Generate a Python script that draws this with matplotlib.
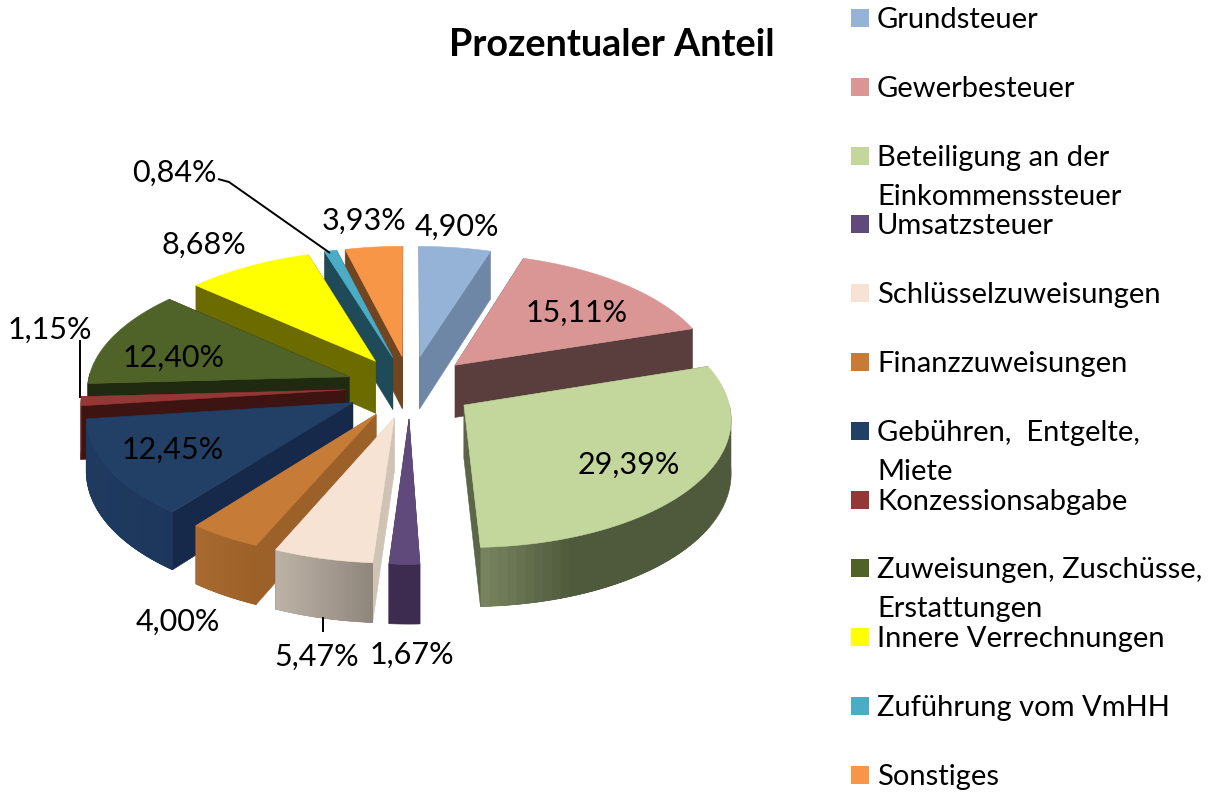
#!env python3

import numpy as np
import matplotlib
matplotlib.use("Agg")
import matplotlib.pyplot as plt
from matplotlib.colors import to_rgb
from matplotlib.patches import Polygon, Rectangle

names = ['Grundsteuer', 'Gewerbesteuer', 'Beteiligung an der\nEinkommenssteuer', 'Umsatzsteuer',
         'Schlüsselzuweisungen', 'Finanzzuweisungen', 'Gebühren,  Entgelte,\nMiete', 'Konzessionsabgabe',
         'Zuweisungen, Zuschüsse,\nErstattungen', 'Innere Verrechnungen', 'Zuführung vom VmHH', 'Sonstiges']
values = [4.90, 15.11, 29.39, 1.67, 5.47, 4.00, 12.45, 1.15, 12.40, 8.68, 0.84, 3.93]
title = 'Prozentualer Anteil'

top_colors = ['#95B3D7', '#D99694', '#C3D69B', '#604A7B', '#F6E3D3', '#C67B36',
              '#223F66', '#953735', '#4F6228', '#FFFF00', '#4BACC6', '#F79646']
side_colors = ['#6F87A6', '#5A3E3D', '#5C6548', '#3D2C4F', '#CFC3B5', '#9C6128',
               '#16294A', '#3E1412', '#1F2A10', '#6B6B00', '#1F4A58', '#70451F']
arc_left = ['#6F87A6', '#5A3E3D', '#77835F', '#3D2C4F', '#BDB2A6', '#A86A30',
            '#1F3A60', '#6A1F1D', '#1F2A10', '#6B6B00', '#1F4A58', '#70451F']
arc_right = ['#6F87A6', '#5A3E3D', '#4F593B', '#3D2C4F', '#8F867B', '#9C6128',
             '#1D375C', '#6A1F1D', '#1F2A10', '#6B6B00', '#1F4A58', '#70451F']

label_pos = [(457, 225), (577, 311), (629, 463), (412, 653), (317, 655), (178, 620),
             (173, 448), (50, 328), (174, 356), (204, 243), (174, 171), (364, 219)]
leaders = [[(218, 179), (229, 182), (330, 253)], [(80, 340), (80, 398)], [(323, 617), (323, 632)]]

CX, CY = 410, 387
RADIUS = 262
EXPLODE = 65
TILT = 0.48
PERSP = 0.00035
DEPTH = 53
FONT = 'Lato'


def project(x, y, z=0.0):
    s = 1.0 / (1.0 - PERSP * y)
    return CX + x * s, CY + TILT * y * s + DEPTH * z * s


def outline(t0, t1, ox, oy, n=60):
    th = np.linspace(t0, t1, n)
    return ox + RADIUS * np.sin(th), oy - RADIUS * np.cos(th), th


def draw_slice(ax, t0, t1, top, side, c_left, c_right):
    mid = (t0 + t1) / 2
    ox, oy = EXPLODE * np.sin(mid), -EXPLODE * np.cos(mid)
    ax_x, ax_y, th = outline(t0, t1, ox, oy)

    # radial walls first
    for t in (t0, t1):
        ex, ey = ox + RADIUS * np.sin(t), oy - RADIUS * np.cos(t)
        pts = [project(ox, oy), project(ex, ey), project(ex, ey, 1), project(ox, oy, 1)]
        ax.add_patch(Polygon(pts, closed=True, fc=side, ec=side, lw=0.4))

    # outer wall only where it faces the viewer
    front = np.cos(th) <= 0.03
    if front.sum() > 1:
        fx, fy = ax_x[front], ax_y[front]
        upper = np.c_[project(fx, fy)]
        lower = np.c_[project(fx, fy, 1)][::-1]
        ax.add_patch(Polygon(np.r_[upper, lower], closed=True, fc=c_right, ec=c_right, lw=0.4))

    # shaded facet by facet, only when the wall has a gradient
    if c_left != c_right:
        sx = project(ax_x, ax_y)[0]
        c1, c2 = np.array(to_rgb(c_left)), np.array(to_rgb(c_right))
        fade = 0.35 if c_left == '#77835F' else 1.0
        order = np.argsort(sx)
        for i in range(len(th) - 1):
            a, b = order[i], order[min(i + 3, len(th) - 1)]
            if not (front[a] and front[b]):
                continue
            f = (sx[a] - sx.min()) / max(sx.max() - sx.min(), 1)
            col = c1 + (c2 - c1) * min(f / fade, 1)
            pts = [project(ax_x[a], ax_y[a]), project(ax_x[b], ax_y[b]),
                   project(ax_x[b], ax_y[b], 1), project(ax_x[a], ax_y[a], 1)]
            ax.add_patch(Polygon(pts, closed=True, fc=col, ec='none'))

    px, py = project(np.r_[ox, ax_x], np.r_[oy, ax_y])
    ax.add_patch(Polygon(np.c_[px, py], closed=True, fc=top, ec=top, lw=0.4))


fig = plt.figure(figsize=(12.16, 7.92), dpi=100)
ax = fig.add_axes([0, 0, 1, 1])
ax.set_xlim(0, 1216)
ax.set_ylim(792, 0)
ax.axis('off')

edges = np.r_[0, np.cumsum(values)] / np.sum(values) * 2 * np.pi
mids = (edges[:-1] + edges[1:]) / 2
for i in np.argsort(-np.cos(mids)):
    draw_slice(ax, edges[i], edges[i + 1], top_colors[i], side_colors[i], arc_left[i], arc_right[i])

for line in leaders:
    ax.plot(*zip(*line), color='black', lw=1.4, solid_capstyle='butt')

for v, (x, y) in zip(values, label_pos):
    ax.text(x, y + 2, '{:.2f}%'.format(v).replace('.', ','), ha='center', va='center',
            fontsize=22, family=FONT, color='black')

ax.text(612, 45, title, ha='center', va='center', fontsize=27.2, fontweight='bold', family=FONT)

for i, name in enumerate(names):
    yc = 18 + i * 68.8
    ax.add_patch(Rectangle((851, yc - 9), 18, 18, fc=top_colors[i], ec='none'))
    for j, part in enumerate(name.split('\n')):
        ax.text(877, yc + 2 + j * 39, part, ha='left', va='center', fontsize=21, family=FONT)

fig.savefig('out.png', dpi=100)
